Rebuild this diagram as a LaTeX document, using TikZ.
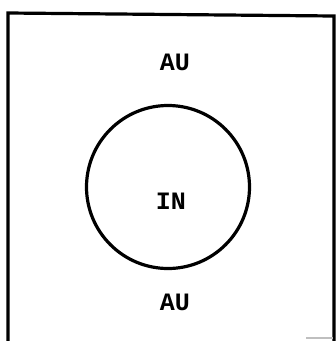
\documentclass[tikz,border=0pt]{standalone}
\usepackage{fontspec}
\newfontfamily\scanfont{Liberation Mono}
\tikzset{
  frame/.style={line width=3.2pt, line cap=rect},
  ring/.style={circle, draw, line width=3.2pt, minimum size=163pt, inner sep=0pt},
  lbl/.style={font=\scanfont\bfseries\fontsize{25}{25}\selectfont, inner sep=0pt}
}
\begin{document}
\begin{tikzpicture}[x=1pt,y=-1pt]
\useasboundingbox (0,0) rectangle (336,341);
\coordinate (bl) at (8,341);
\coordinate (tl) at (8,13);
\coordinate (tr) at (334,16);
\coordinate (br) at (334,341);
\draw[frame] (bl) -- (tl) -- (tr) -- (br);
\coordinate (g1) at (306,338);
\coordinate (g2) at (333,338);
\draw[gray!50, line width=1.2pt] (g1) -- (g2);
\node[ring] (c) at (168,187) {};
\node[lbl] (top) at (175,62) {AU};
\node[lbl] (mid) at (171,201) {IN};
\node[lbl] (bot) at (175,302) {AU};
\end{tikzpicture}
\end{document}
